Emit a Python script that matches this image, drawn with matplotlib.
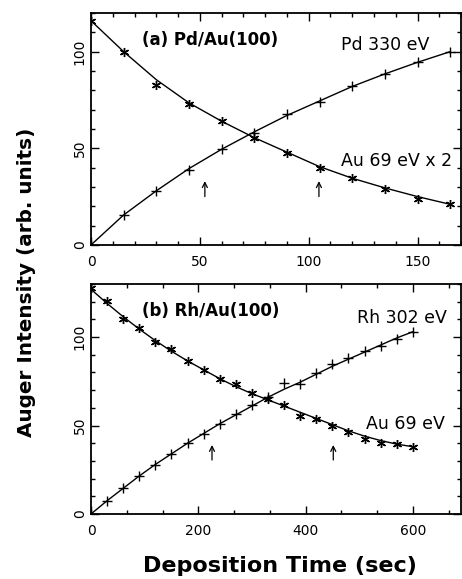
import numpy as np
import matplotlib
matplotlib.use('Agg')
import matplotlib.pyplot as plt
from matplotlib.ticker import MultipleLocator

# (a) Pd/Au(100): points every 15 s
t_pd = [0, 15, 30, 45, 60, 75, 90, 105, 120, 135, 150, 165]
pd_330 = [0, 15.5, 28, 38.9, 49.7, 57.9, 67.7, 73.7, 82, 88.6, 94.7, 99.8]
au_a = [115.7, 100, 83, 73, 64, 55.3, 47.5, 39.7, 34.5, 29, 23.8, 21.2]
pd_fit = [0, 15.5, 28, 39.5, 49.5, 58.5, 67, 74.5, 82, 88.5, 94.5, 100]
au_a_fit = [116, 100, 85.5, 73.5, 64, 55.5, 48, 40.5, 34.5, 29.5, 25, 21]
arrows_a = [52.3, 104.7]

# (b) Rh/Au(100): points every 30 s
t_rh = [0, 30, 60, 90, 120, 150, 180, 210, 240, 270, 300,
        330, 360, 390, 420, 450, 480, 510, 540, 570, 600]
rh_302 = [0, 7.6, 14.6, 21.5, 27.7, 33.9, 39.9, 45.1, 50.7, 56.3, 61.4,
          66, 74.1, 73.6, 79.8, 84.8, 88.2, 92.3, 95.1, 98.9, 103]
au_b = [127.5, 120.4, 110, 105.4, 97.4, 93.2, 86.7, 81.6, 76.4, 73.2, 68.3,
        64.8, 61.4, 55.4, 53.5, 49.8, 46.4, 42.3, 40.4, 39.5, 38]
rh_fit = [0, 7.5, 14.5, 21.5, 28, 34, 40, 45.5, 51, 56, 61,
          66, 70.5, 74.5, 79, 83.5, 87.5, 91.5, 95.5, 99.5, 103]
au_b_fit = [127, 119, 111.5, 104.5, 98, 92, 86.5, 81.5, 76.5, 72, 68,
            64.5, 61, 57.5, 54, 50.5, 47, 44, 41.5, 39.5, 38]
arrows_b = [225.6, 451.7]

plt.rcParams['font.family'] = 'DejaVu Sans'
fig = plt.figure(figsize=(4.62, 5.79), dpi=100)
ax1 = fig.add_axes([0.197, 0.577, 0.801, 0.4005])
ax2 = fig.add_axes([0.197, 0.1123, 0.801, 0.3972])

star = (6, 2, 0)


def style_axes(ax, xmaj, xmin, ylim, xlim):
    ax.set_xlim(*xlim)
    ax.set_ylim(*ylim)
    ax.xaxis.set_major_locator(MultipleLocator(xmaj))
    ax.xaxis.set_minor_locator(MultipleLocator(xmin))
    ax.yaxis.set_major_locator(MultipleLocator(50))
    ax.yaxis.set_minor_locator(MultipleLocator(10))
    ax.tick_params(which='both', direction='in', top=True, right=True,
                   width=1, labelsize=10)
    ax.tick_params(which='major', length=6)
    ax.tick_params(which='minor', length=3)
    ax.tick_params(axis='x', pad=7)
    ax.tick_params(axis='y', pad=3)
    for lab in ax.get_yticklabels():
        lab.set_rotation(90)
        lab.set_va('center')
    for sp in ax.spines.values():
        sp.set_linewidth(1.3)


def draw_arrows(ax, xs, y0, y1):
    for x in xs:
        ax.annotate('', xy=(x, y1), xytext=(x, y0),
                    arrowprops=dict(arrowstyle='->', lw=0.9, color='black',
                                    mutation_scale=9, shrinkA=0, shrinkB=0))


# panel (a)
ax1.plot(t_pd, pd_fit, color='black', lw=1)
ax1.plot(t_pd, au_a_fit, color='black', lw=1)
ax1.plot(t_pd, pd_330, ls='none', marker='+', ms=6.5, mew=1, color='black')
ax1.plot(t_pd, au_a, ls='none', marker=star, ms=6.5, mew=1, color='black')
style_axes(ax1, 50, 10, (0, 120), (0, 170))
draw_arrows(ax1, arrows_a, 25, 33)
ax1.text(23.2, 103.6, '(a) Pd/Au(100)', fontsize=12, fontweight='bold')
ax1.text(115, 101, 'Pd 330 eV', fontsize=12.5)
ax1.text(115, 40.6, 'Au 69 eV x 2', fontsize=12.5)

# panel (b)
ax2.plot(t_rh, rh_fit, color='black', lw=1)
ax2.plot(t_rh, au_b_fit, color='black', lw=1)
ax2.plot(t_rh, rh_302, ls='none', marker='+', ms=6.5, mew=1, color='black')
ax2.plot(t_rh, au_b, ls='none', marker=star, ms=6.5, mew=1, color='black')
style_axes(ax2, 200, 200 / 3, (0, 130), (0, 690))
draw_arrows(ax2, arrows_b, 30.5, 39)
ax2.text(94.8, 112, '(b) Rh/Au(100)', fontsize=12, fontweight='bold')
ax2.text(496, 108.2, 'Rh 302 eV', fontsize=12.5)
ax2.text(512, 48.3, 'Au 69 eV', fontsize=12.5)

fig.text(0.058, 0.513, 'Auger Intensity (arb. units)', rotation=90,
         ha='center', va='center', fontsize=14.4, fontweight='bold')
fig.text(0.606, 0.0225, 'Deposition Time (sec)', ha='center', va='center',
         fontsize=16, fontweight='bold')

fig.savefig('out.png', dpi=100)
